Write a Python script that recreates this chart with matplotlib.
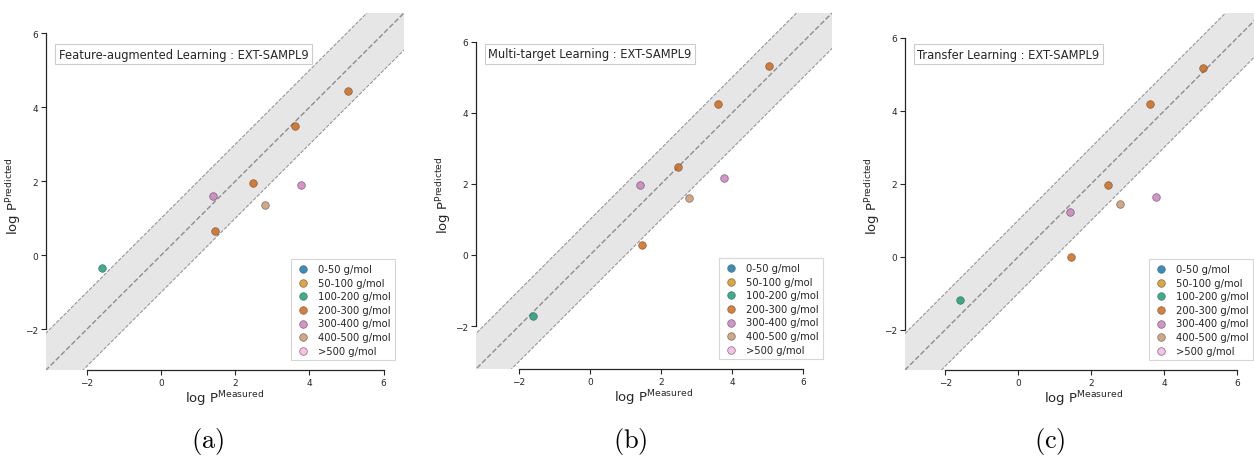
import matplotlib
matplotlib.use("Agg")
import matplotlib.pyplot as plt
import numpy as np

# measured logP (same set for all three panels)
measured = [-1.60, 1.41, 1.46, 2.47, 2.79, 3.61, 3.77, 5.05]
mw_class = ["100-200 g/mol", "300-400 g/mol", "200-300 g/mol", "200-300 g/mol",
            "400-500 g/mol", "200-300 g/mol", "300-400 g/mol", "200-300 g/mol"]

pred_feature = [-0.33, 1.60, 0.66, 1.95, 1.37, 3.49, 1.91, 4.43]
pred_multi = [-1.71, 1.98, 0.29, 2.47, 1.61, 4.25, 2.17, 5.31]
pred_transfer = [-1.17, 1.24, 0.00, 1.97, 1.44, 4.20, 1.65, 5.18]

categories = ["0-50 g/mol", "50-100 g/mol", "100-200 g/mol", "200-300 g/mol",
              "300-400 g/mol", "400-500 g/mol", ">500 g/mol"]
cat_colors = ["#0173b2", "#de8f05", "#029e73", "#d55e00", "#cc78bc", "#ca9161", "#fbafe4"]

titles = ["Feature-augmented Learning : EXT-SAMPL9",
          "Multi-target Learning : EXT-SAMPL9",
          "Transfer Learning : EXT-SAMPL9"]
captions = ["(a)", "(b)", "(c)"]
preds = [pred_feature, pred_multi, pred_transfer]

W, H = 1254, 460
fig = plt.figure(figsize=(W / 100, H / 100), dpi=100)

# axes boxes in pixels: left, bottom(from top), width, height
boxes = [(46, 371, 358, 357), (476, 370, 356, 356), (905, 371, 357, 357)]
cap_x = [208, 630, 1050]
dark = "#262626"

for i in range(3):
    l, b, w, h = boxes[i]
    ax = fig.add_axes([l / W, (H - b) / H, w / W, h / H])
    y = preds[i]
    lo = min(min(measured), min(y)) - 1.5
    hi = max(max(measured), max(y)) + 1.5
    xs = np.array([lo - 1, hi + 1])
    ax.fill_between(xs, xs - 1, xs + 1, color="#e6e6e6", zorder=0, lw=0)
    ax.plot(xs, xs + 1, ls="--", color="#8c8c8c", lw=0.7, zorder=1)
    ax.plot(xs, xs - 1, ls="--", color="#8c8c8c", lw=0.7, zorder=1)
    ax.plot(xs, xs, ls="--", color="#8c8c8c", lw=1.0, zorder=1)

    for cat, col in zip(categories, cat_colors):
        px = [m for m, c in zip(measured, mw_class) if c == cat]
        py = [p for p, c in zip(y, mw_class) if c == cat]
        ax.scatter(px, py, s=30, color=col, alpha=0.8, edgecolor="#555555",
                   linewidth=0.5, label=cat, zorder=3)

    ax.set_xlim(lo, hi)
    ax.set_ylim(lo, hi)
    ax.set_xticks([-2, 0, 2, 4, 6])
    ax.set_yticks([-2, 0, 2, 4, 6])
    for s in ["top", "right"]:
        ax.spines[s].set_visible(False)
    ax.spines["left"].set_bounds(-2, 6)
    ax.spines["bottom"].set_bounds(-2, 6)
    for s in ["left", "bottom"]:
        ax.spines[s].set_color(dark)
        ax.spines[s].set_linewidth(0.9)
    ax.tick_params(labelsize=6.5, colors=dark, length=3.5, width=0.8, pad=2)
    ax.set_xlabel(r"log P$^{\mathrm{Measured}}$", fontsize=9.5, color=dark, labelpad=1)
    ax.set_ylabel(r"log P$^{\mathrm{Predicted}}$", fontsize=9.5, color=dark)
    ax.yaxis.set_label_coords(-23 / w, 0.49)

    ax.text(0.035, 0.885, titles[i], transform=ax.transAxes, fontsize=8.3,
            color=dark, va="center", ha="left",
            bbox=dict(boxstyle="square,pad=0.3", facecolor="white",
                      edgecolor="#cccccc", linewidth=0.8))
    leg = ax.legend(loc="lower right", fontsize=7.2, frameon=True, fancybox=False,
                    borderpad=0.45, labelspacing=0.36, handletextpad=0.7,
                    handlelength=1.6, bbox_to_anchor=(0.99, 0.014))
    leg.get_frame().set_edgecolor("#cccccc")
    leg.get_frame().set_linewidth(0.8)
    for t in leg.get_texts():
        t.set_color(dark)

    fig.text(cap_x[i] / W, 1 - 442 / H, r"$\mathrm{" + captions[i] + "}$",
             math_fontfamily="cm", fontsize=19, ha="center", va="center")

fig.savefig("out.png", dpi=100)
